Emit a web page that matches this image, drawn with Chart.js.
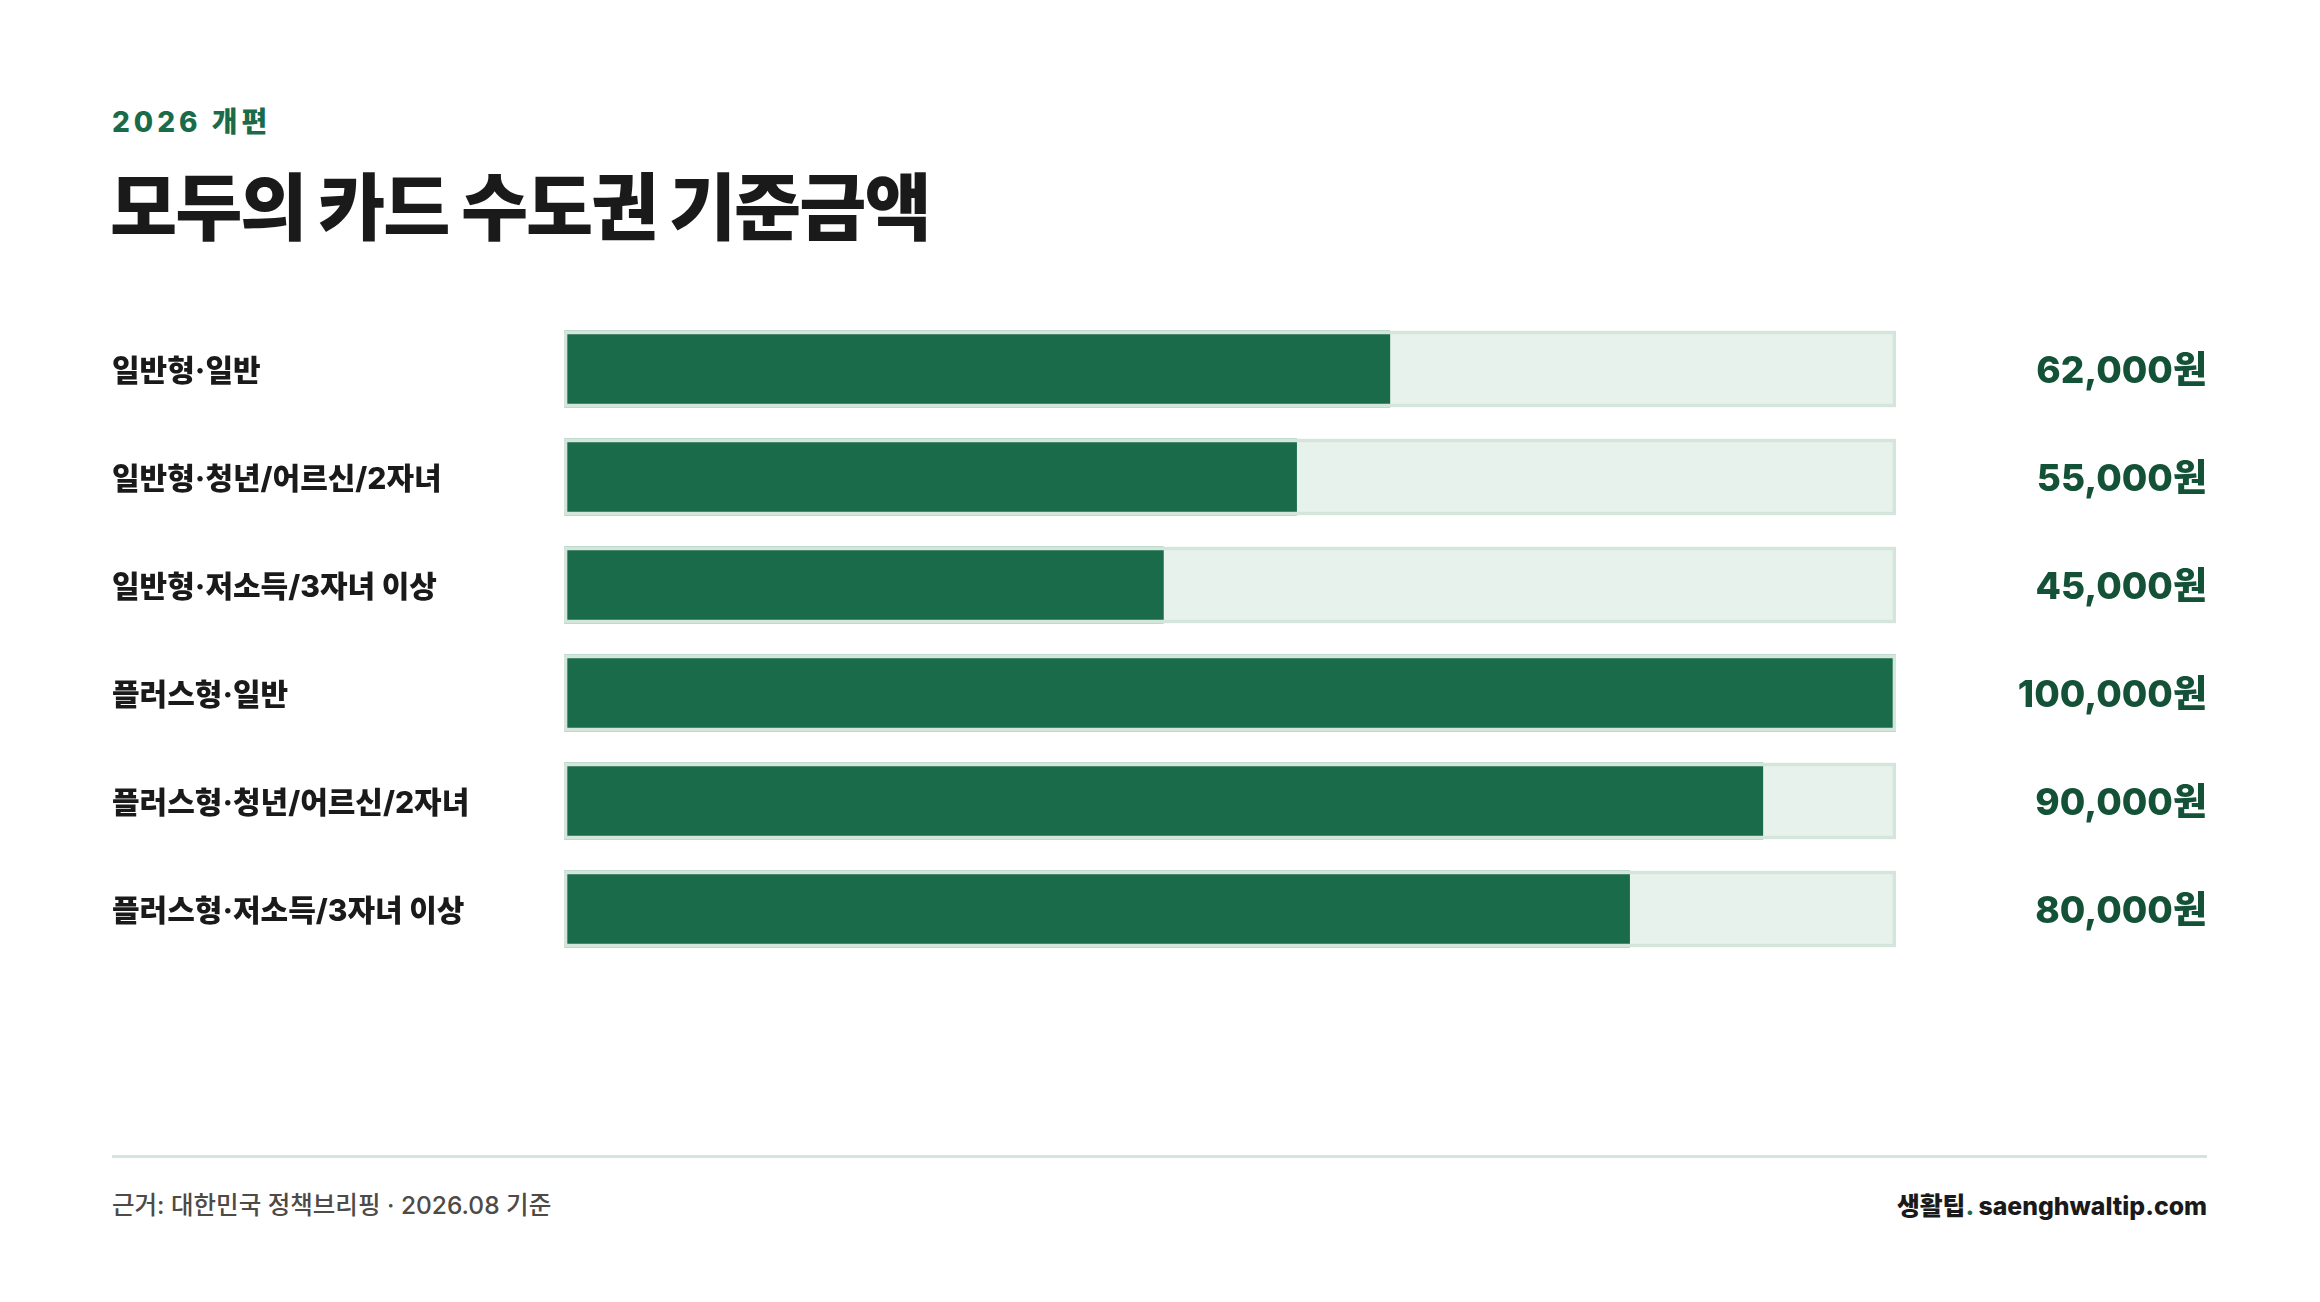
<!DOCTYPE html>
<html lang="ko">
<head>
<meta charset="utf-8">
<title>모두의 카드 수도권 기준금액</title>
<script src="https://cdn.jsdelivr.net/npm/chart.js@4.4.1/dist/chart.umd.min.js"></script>
<style>
  html, body { margin: 0; padding: 0; background: #ffffff; }
  body { width: 2320px; height: 1302px; position: relative; overflow: hidden;
         font-family: Inter, "Noto Sans CJK KR", sans-serif; }
  .kicker { position: absolute; left: 112px; top: 106px; font-size: 28px; font-weight: 800;
            letter-spacing: 4px; color: #1a6b4a; line-height: 1.2; }
  .title { position: absolute; left: 110px; top: 164px; font-size: 73px; font-weight: 900;
           letter-spacing: -2px; color: #1a1a1a; line-height: 1.2; }
  #wrap { position: absolute; left: 0; top: 315px; width: 2320px; height: 648px; }
  .rule { position: absolute; left: 112px; top: 1155px; width: 2095px; height: 3px; background: #d4e6dc; }
  .source { position: absolute; left: 112px; top: 1190px; font-size: 24.5px; font-weight: 500; color: #4d4a47; line-height: 1.3; }
  .brand { position: absolute; right: 113px; top: 1190px; font-size: 24.8px; font-weight: 800; color: #1a1a1a; line-height: 1.3; }
  .brand .dot { color: #1a6b4a; }
</style>
</head>
<body>
<div class="kicker">2026 개편</div>
<div class="title">모두의 카드 수도권 기준금액</div>
<div id="wrap"><canvas id="chart" width="2320" height="648"></canvas></div>
<div class="rule"></div>
<div class="source">근거: 대한민국 정책브리핑 · 2026.08 기준</div>
<div class="brand">생활팁<span class="dot">.</span> saenghwaltip.com</div>

<script>
// 데이터
const CATEGORIES = [
    '일반형·일반',
    '일반형·청년/어르신/2자녀',
    '일반형·저소득/3자녀 이상',
    '플러스형·일반',
    '플러스형·청년/어르신/2자녀',
    '플러스형·저소득/3자녀 이상'
];
const AMOUNTS = [62000, 55000, 45000, 100000, 90000, 80000];
const AXIS_MAX = 100000;

// 색상
const GREEN = '#1a6b4a';
const VALUE_GREEN = '#145238';
const TRACK_BG = '#e8f2ec';
const TRACK_BORDER = '#d4e6dc';
const FONT = 'Inter, "Noto Sans CJK KR", sans-serif';

const fmt = v => v.toLocaleString('en-US') + '원';
const track = CATEGORIES.map(() => AXIS_MAX);

// 축 너비 고정 + 위아래 여백 제거 (행 간격을 일정하게)
function fixAxis(width) {
    return axis => {
        axis.width = width;
        axis.paddingTop = 0;
        axis.paddingBottom = 0;
    };
}

new Chart(document.getElementById('chart'), {
    type: 'bar',
    data: {
        labels: CATEGORIES,
        datasets: [
            { // 트랙 배경
                data: track,
                backgroundColor: TRACK_BG,
                order: 3
            },
            { // 금액 막대
                data: AMOUNTS,
                backgroundColor: GREEN,
                order: 2
            },
            { // 트랙 테두리 (맨 위)
                data: track,
                backgroundColor: 'rgba(0,0,0,0)',
                borderColor: TRACK_BORDER,
                borderWidth: 3,
                borderSkipped: false,
                order: 1
            }
        ]
    },
    options: {
        indexAxis: 'y',
        responsive: false,
        animation: false,
        layout: { padding: { left: 112, right: 113, top: 0, bottom: 0 } },
        datasets: { bar: { grouped: false, barThickness: 76 } },
        plugins: {
            legend: { display: false },
            tooltip: { enabled: false }
        },
        scales: {
            x: { display: false, min: 0, max: AXIS_MAX },
            y: {
                position: 'left',
                grid: { display: false },
                border: { display: false },
                ticks: {
                    crossAlign: 'far',
                    labelOffset: 3,
                    color: '#1a1a1a',
                    font: { family: FONT, size: 30, weight: 800 }
                },
                afterFit: fixAxis(452)
            },
            yValue: {
                type: 'category',
                position: 'right',
                labels: AMOUNTS.map(fmt),
                grid: { display: false },
                border: { display: false },
                ticks: {
                    crossAlign: 'far',
                    labelOffset: 3,
                    color: VALUE_GREEN,
                    font: { family: FONT, size: 37, weight: 800 }
                },
                afterFit: fixAxis(311)
            }
        }
    }
});
</script>
</body>
</html>
